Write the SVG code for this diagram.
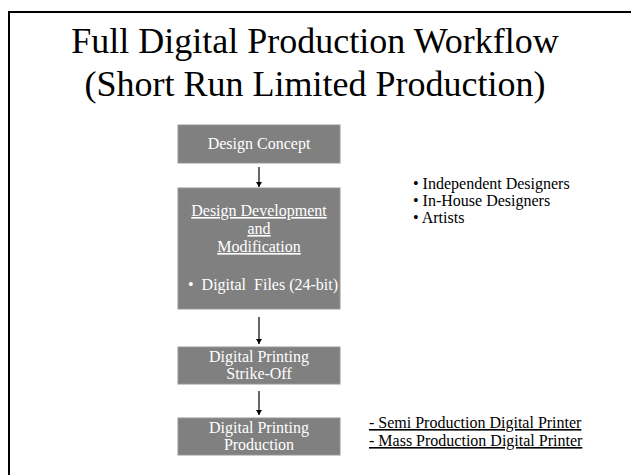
<svg xmlns="http://www.w3.org/2000/svg" width="631" height="475" viewBox="0 0 631 475">
  <defs>
    <marker id="arrowhead" markerWidth="6" markerHeight="6" refX="5" refY="3" orient="auto" markerUnits="userSpaceOnUse">
      <path d="M0,0 L5,3 L0,6 Z" fill="#000"/>
    </marker>
  </defs>
  <style>
    text { font-family: "Liberation Serif", "Times New Roman", serif; }
    .title { font-size: 36px; fill: #000; text-anchor: middle; }
    .box { fill: #808080; stroke: #969696; stroke-width: 1; }
    .boxtext { font-size: 16px; fill: #fff; text-anchor: middle; }
    .note { font-size: 16px; fill: #000; }
    .u { text-decoration: underline; }
    .conn { stroke: #000; stroke-width: 1.2; fill: none; marker-end: url(#arrowhead); }
  </style>

  <rect width="631" height="475" fill="#fff"/>
  <!-- slide frame (right and bottom edges lie outside the view) -->
  <rect x="9" y="12" width="640" height="480" fill="none" stroke="#000" stroke-width="2"/>

  <g id="title" font-family="Liberation Serif, serif">
    <text class="title" x="315" y="53" font-family="Liberation Serif, serif">Full Digital Production Workflow</text>
    <text class="title" x="315" y="96" font-family="Liberation Serif, serif">(Short Run Limited Production)</text>
  </g>

  <g id="connectors">
    <line class="conn" x1="259" y1="167" x2="259" y2="187"/>
    <line class="conn" x1="259" y1="317" x2="259" y2="344"/>
    <line class="conn" x1="259" y1="391" x2="259" y2="415"/>
  </g>

  <g id="design-concept">
    <rect class="box" x="178" y="125" width="162" height="38"/>
    <text class="boxtext" x="259" y="149">Design Concept</text>
  </g>

  <g id="design-development">
    <rect class="box" x="178" y="188" width="162" height="121"/>
    <text class="boxtext u" x="259" y="216">Design Development</text>
    <text class="boxtext u" x="259" y="234">and</text>
    <text class="boxtext u" x="259" y="252">Modification</text>
    <text class="boxtext" x="188" y="290" style="text-anchor:start; white-space:pre">•  Digital  Files (24-bit)</text>
  </g>

  <g id="strike-off">
    <rect class="box" x="178" y="347" width="162" height="37"/>
    <text class="boxtext" x="259" y="362">Digital Printing</text>
    <text class="boxtext" x="259" y="379">Strike-Off</text>
  </g>

  <g id="production">
    <rect class="box" x="178" y="418" width="162" height="37"/>
    <text class="boxtext" x="259" y="433">Digital Printing</text>
    <text class="boxtext" x="259" y="450">Production</text>
  </g>

  <g id="designers">
    <text class="note" x="413" y="189">• Independent Designers</text>
    <text class="note" x="413" y="206">• In-House Designers</text>
    <text class="note" x="413" y="223">• Artists</text>
  </g>

  <g id="printers">
    <text class="note u" x="369" y="428">- Semi Production Digital Printer</text>
    <text class="note u" x="369" y="446">- Mass Production Digital Printer</text>
  </g>
</svg>
